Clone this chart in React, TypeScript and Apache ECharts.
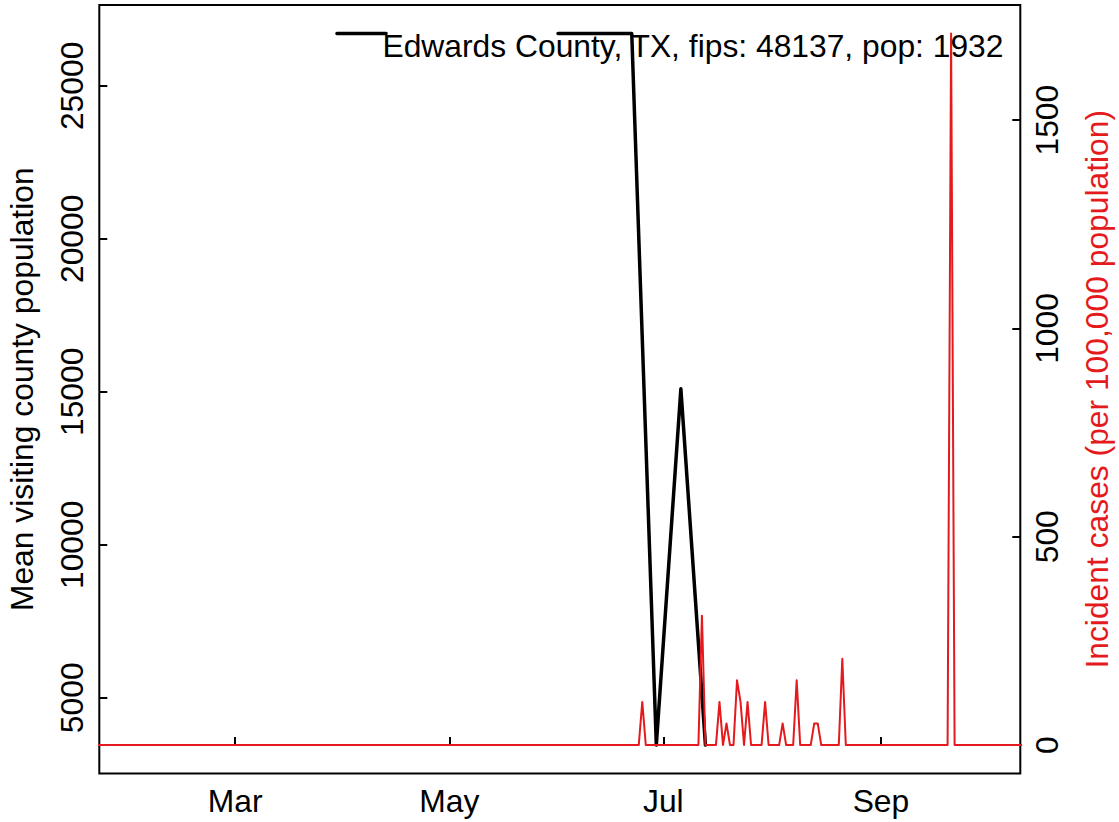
import React, { useEffect, useRef } from "react";
import * as echarts from "echarts";

// ---------------- data ----------------
// Weekly mean visiting county population (black line); null = missing week
const visitWeeks = [
  "2020-03-30", "2020-04-06", "2020-04-13", "2020-04-20",
  "2020-06-01", "2020-06-08", "2020-06-15", "2020-06-22",
  "2020-06-29", "2020-07-06", "2020-07-13",
];
const visitValues: (number | null)[] = [
  26713, 26713, 26713, null,
  26713, 26713, 26713, 26713,
  3456, 15100, 3456,
];

// Daily incident cases per 100,000 population (red line); all other days are 0
const caseDates = [
  "2020-06-25", "2020-07-12", "2020-07-17", "2020-07-19", "2020-07-22",
  "2020-07-23", "2020-07-25", "2020-07-30", "2020-08-04", "2020-08-08",
  "2020-08-13", "2020-08-14", "2020-08-21", "2020-09-21",
];
const caseValues = [
  103.5, 310.6, 103.5, 51.8, 155.3,
  103.5, 103.5, 103.5, 51.8, 155.3,
  51.8, 51.8, 207.0, 1708.1,
];
const caseSeriesStart = "2020-01-10";
const caseSeriesEnd = "2020-10-20";

// x range of the plot data (before the 4% padding)
const xDataStart = "2020-02-01";
const xDataEnd = "2020-10-01";

const xTickDates = ["2020-03-01", "2020-05-01", "2020-07-01", "2020-09-01"];
const xTickLabels = ["Mar", "May", "Jul", "Sep"];
const leftTicks = [5000, 10000, 15000, 20000, 25000];
const rightTicks = [0, 500, 1000, 1500];

const TITLE = "Edwards County, TX, fips: 48137, pop: 1932";
const LEFT_NAME = "Mean visiting county population";
const RIGHT_NAME = "Incident cases (per 100,000 population)";

// ---------------- helpers ----------------
const DAY = 86400000;
const t = (s: string) => {
  const [y, m, d] = s.split("-").map(Number);
  return Date.UTC(y, m - 1, d);
};

const FONT = '"Liberation Sans", Arial, Helvetica, sans-serif';
const FS = 31.8;
const RED = "#E41A1C";

export default function App() {
  const ref = useRef<HTMLDivElement | null>(null);

  useEffect(() => {
    if (!ref.current) return;
    const chart = echarts.init(ref.current, null, { renderer: "svg" });

    // black series
    const blackData = visitWeeks.map((d, i) => [t(d), visitValues[i]]);
    const vv = visitValues.filter((v): v is number => v !== null);
    const vMin = Math.min(...vv);
    const vMax = Math.max(...vv);
    const vPad = 0.04 * (vMax - vMin);

    // red series (daily)
    const caseMap = new Map<number, number>();
    caseDates.forEach((d, i) => caseMap.set(t(d), caseValues[i]));
    const redData: [number, number][] = [];
    for (let x = t(caseSeriesStart); x <= t(caseSeriesEnd); x += DAY) {
      redData.push([x, caseMap.get(x) ?? 0]);
    }
    const cMax = Math.max(...caseValues);
    const cPad = 0.04 * cMax;

    const x0 = t(xDataStart);
    const x1 = t(xDataEnd);
    const xPad = 0.04 * (x1 - x0);

    const xTicks = xTickDates.map(t);

    const gridLeft = 99.3;
    const gridRight = 1020.3;
    const gridTop = 5;
    const gridBottom = 773.5;

    const tickStyle = { show: true, inside: true, length: 8, lineStyle: { color: "#000", width: 2 } };
    const labelBase = { color: "#000", fontSize: FS, fontFamily: FONT, margin: 11 };

    chart.setOption({
      animation: false,
      backgroundColor: "#fff",
      grid: {
        left: gridLeft,
        right: 1119 - gridRight,
        top: gridTop,
        bottom: 822 - gridBottom,
        show: true,
        borderColor: "#000",
        borderWidth: 2,
        backgroundColor: "transparent",
        containLabel: false,
        outerBoundsMode: "none",
      },
      xAxis: {
        type: "value",
        min: x0 - xPad,
        max: x1 + xPad,
        axisLine: { show: false },
        splitLine: { show: false },
        axisTick: { ...tickStyle, customValues: xTicks },
        axisLabel: {
          ...labelBase,
          customValues: xTicks,
          formatter: (v: number) => {
            const i = xTicks.indexOf(v);
            return i >= 0 ? xTickLabels[i] : "";
          },
        },
      },
      yAxis: [
        {
          type: "value",
          position: "left",
          min: vMin - vPad,
          max: vMax + vPad,
          axisLine: { show: false },
          splitLine: { show: false },
          axisTick: { ...tickStyle, customValues: leftTicks },
          axisLabel: { ...labelBase, rotate: 90, customValues: leftTicks, formatter: (v: number) => String(v) },
        },
        {
          type: "value",
          position: "right",
          min: -cPad,
          max: cMax + cPad,
          axisLine: { show: false },
          splitLine: { show: false },
          axisTick: { ...tickStyle, customValues: rightTicks },
          axisLabel: { ...labelBase, rotate: 90, customValues: rightTicks, formatter: (v: number) => String(v) },
        },
      ],
      series: [
        {
          type: "line",
          name: "visiting",
          xAxisIndex: 0,
          yAxisIndex: 0,
          data: blackData,
          showSymbol: false,
          symbol: "none",
          connectNulls: false,
          clip: true,
          lineStyle: { color: "#000", width: 3.5, join: "round", cap: "round" },
          z: 2,
        },
        {
          type: "line",
          name: "cases",
          xAxisIndex: 0,
          yAxisIndex: 1,
          data: redData,
          showSymbol: false,
          symbol: "none",
          clip: true,
          lineStyle: { color: RED, width: 2, join: "round", cap: "round" },
          z: 3,
        },
      ],
      graphic: [
        {
          type: "text",
          x: 1003.5,
          y: 45.5,
          z: 100,
          style: {
            text: TITLE,
            fill: "#000",
            fontSize: FS,
            fontFamily: FONT,
            align: "right",
            verticalAlign: "middle",
            textAlign: "right",
            textVerticalAlign: "middle",
          },
        },
        {
          type: "text",
          x: 22.0,
          y: (gridTop + gridBottom) / 2,
          rotation: Math.PI / 2,
          z: 100,
          style: {
            text: LEFT_NAME,
            fill: "#000",
            fontSize: FS,
            fontFamily: FONT,
            align: "center",
            verticalAlign: "middle",
            textAlign: "center",
            textVerticalAlign: "middle",
          },
        },
        {
          type: "text",
          x: 1097.0,
          y: (gridTop + gridBottom) / 2,
          rotation: Math.PI / 2,
          z: 100,
          style: {
            text: RIGHT_NAME,
            fill: RED,
            fontSize: FS,
            fontFamily: FONT,
            align: "center",
            verticalAlign: "middle",
            textAlign: "center",
            textVerticalAlign: "middle",
          },
        },
      ],
    });

    return () => chart.dispose();
  }, []);

  return (
    <div
      ref={ref}
      style={{ position: "fixed", left: 0, top: 0, width: 1119, height: 822, background: "#fff" }}
    />
  );
}
